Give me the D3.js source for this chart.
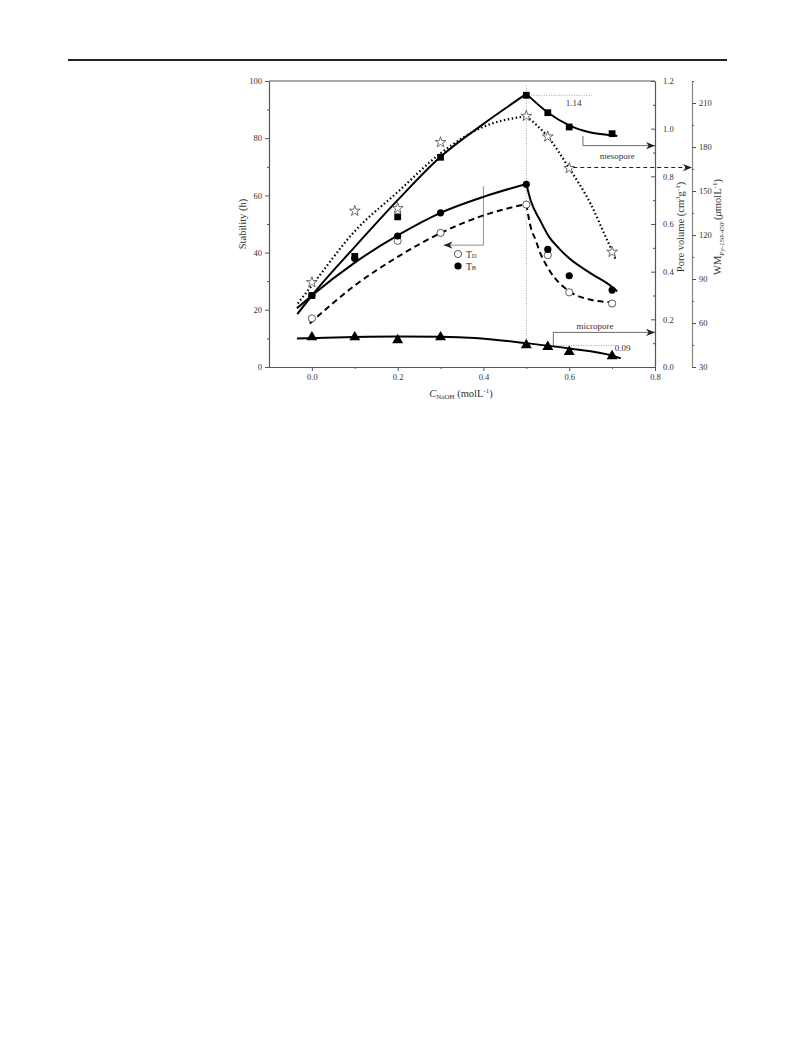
<!DOCTYPE html>
<html><head><meta charset="utf-8">
<script src="https://cdn.jsdelivr.net/npm/d3@7"></script>
<style>body{margin:0;background:#fff}svg{display:block}text{font-family:"Liberation Serif","Times New Roman",serif;fill:#333}</style>
</head><body>
<script>
// ---- data ----
const xCats = [0.0, 0.1, 0.2, 0.3, 0.5, 0.55, 0.6, 0.7];
const mesoporeVol = [0.30, 0.464, 0.63, 0.88, 1.14, 1.067, 1.007, 0.979];          // squares, cm3/g
const microporeVol = [0.125, 0.125, 0.113, 0.125, 0.092, 0.085, 0.064, 0.046];     // triangles, cm3/g
const wmPy = [87.7, 136.4, 138.2, 183.2, 201.1, 187.0, 165.5, 108.4];              // stars, umol/L
const tB = [25, 37.9, 45.8, 53.9, 63.9, 41.1, 31.9, 26.9];                         // filled circles, h
const tDx = [0.0, 0.2, 0.3, 0.5, 0.55, 0.6, 0.7];
const tD = [17.0, 44.1, 46.9, 56.8, 39.1, 26.1, 22.2];                              // open circles, h

// fitted curves
const mesoFitUpX = [-0.034, 0, 0.1, 0.2, 0.3, 0.4, 0.5];
const mesoFitUp = [0.222, 0.30, 0.504, 0.70, 0.882, 1.02, 1.146];
const mesoFitDnX = [0.5, 0.55, 0.6, 0.65, 0.7, 0.712];
const mesoFitDn = [1.146, 1.068, 1.014, 0.984, 0.972, 0.969];
const wmFitUpX = [-0.033, 0, 0.1, 0.2, 0.3, 0.4, 0.5];
const wmFitUp = [73.3, 85.6, 122.6, 149.3, 175.7, 193.8, 201];
const wmFitDnX = [0.5, 0.55, 0.6, 0.65, 0.685, 0.7, 0.708];
const wmFitDn = [201, 187, 165.5, 141.2, 118.7, 109, 103.3];
const tBFitUpX = [-0.035, 0, 0.1, 0.2, 0.3, 0.4, 0.5];
const tBFitUp = [20.5, 25, 36.5, 46, 53.9, 59.5, 64];
const tBFitDnX = [0.5, 0.51, 0.532, 0.553, 0.576, 0.6, 0.653, 0.7, 0.712];
const tBFitDn = [64, 58.3, 51.3, 45.5, 41.5, 38, 32.5, 28, 26.5];
const tDFitUpX = [-0.005, 0.1, 0.2, 0.3, 0.4, 0.5];
const tDFitUp = [15.2, 28.5, 38.5, 46.8, 53, 57];
const tDFitDnX = [0.5, 0.51, 0.522, 0.53, 0.553, 0.6, 0.65, 0.7, 0.71];
const tDFitDn = [57, 49, 44.3, 40.8, 34, 26.5, 23.5, 22.6, 22.5];
const microFitX = [-0.035, 0.1, 0.2, 0.3, 0.38, 0.5, 0.6, 0.7, 0.72];
const microFit = [0.12, 0.126, 0.128, 0.127, 0.122, 0.10, 0.078, 0.048, 0.036];

const xTicks = [0.0, 0.2, 0.4, 0.6, 0.8];
const yLeftTicks = [0, 20, 40, 60, 80, 100];
const yPvTicks = [0.0, 0.2, 0.4, 0.6, 0.8, 1.0, 1.2];
const yWmTicks = [30, 60, 90, 120, 150, 180, 210];

// ---- layout ----
const W = 793, H = 1053;
const L = 269, R = 655, T = 81, B = 367, WMX = 692;
const svg = d3.select("body").append("svg").attr("width", W).attr("height", H);
svg.append("rect").attr("width", W).attr("height", H).attr("fill", "#fff");

const x = d3.scaleLinear().domain([-0.1, 0.8]).range([L, R]);
const yS = d3.scaleLinear().domain([0, 100]).range([B, T]);
const yP = d3.scaleLinear().domain([0, 1.2]).range([B, T]);
const yW = d3.scaleLinear().domain([30, 225]).range([B, T]);

// top rule
svg.append("line").attr("x1", 68).attr("x2", 727).attr("y1", 60).attr("y2", 60)
  .attr("stroke", "#222").attr("stroke-width", 2);

const defs = svg.append("defs");
defs.append("marker").attr("id", "arr").attr("viewBox", "0 0 10 10").attr("refX", 10).attr("refY", 5)
  .attr("markerWidth", 9).attr("markerHeight", 9).attr("markerUnits", "userSpaceOnUse").attr("orient", "auto")
  .append("path").attr("d", "M0,1 L10,5 L0,9 L3,5 Z").attr("fill", "#222");

const fmt1 = d3.format(".1f");
const axCol = "#555";
function styleAxis(g) {
  g.selectAll("path.domain").attr("stroke", axCol).attr("stroke-width", 1.2);
  g.selectAll(".tick line").attr("stroke", axCol);
  g.selectAll(".tick text").style("font-family", '"Liberation Serif",serif').style("font-size", "8.5px").attr("fill", "#444");
}

// x axis
const gx = svg.append("g").attr("transform", `translate(0,${B})`)
  .call(d3.axisBottom(x).tickValues(xTicks).tickFormat(fmt1).tickSize(4).tickSizeOuter(0).tickPadding(3));
styleAxis(gx);
svg.append("g").attr("transform", `translate(0,${B})`)
  .call(d3.axisBottom(x).tickValues([0.1, 0.3, 0.5, 0.7]).tickFormat("").tickSize(2).tickSizeOuter(0))
  .call(g => { g.select("path.domain").remove(); g.selectAll(".tick line").attr("stroke", axCol); });
// top border
svg.append("line").attr("x1", L).attr("x2", R).attr("y1", T).attr("y2", T).attr("stroke", axCol).attr("stroke-width", 1.2);

// left axis
const gl = svg.append("g").attr("transform", `translate(${L},0)`)
  .call(d3.axisLeft(yS).tickValues(yLeftTicks).tickSize(4).tickSizeOuter(0).tickPadding(3));
styleAxis(gl);
svg.append("g").attr("transform", `translate(${L},0)`)
  .call(d3.axisLeft(yS).tickValues([10, 30, 50, 70, 90]).tickFormat("").tickSize(2).tickSizeOuter(0))
  .call(g => { g.select("path.domain").remove(); g.selectAll(".tick line").attr("stroke", axCol); });

// pore volume axis (inner right)
const gp = svg.append("g").attr("transform", `translate(${R},0)`)
  .call(d3.axisRight(yP).tickValues(yPvTicks).tickFormat(fmt1).tickSize(-4).tickSizeOuter(0).tickPadding(8));
styleAxis(gp);
svg.append("g").attr("transform", `translate(${R},0)`)
  .call(d3.axisRight(yP).tickValues([0.1, 0.3, 0.5, 0.7, 0.9, 1.1]).tickFormat("").tickSize(-2).tickSizeOuter(0))
  .call(g => { g.select("path.domain").remove(); g.selectAll(".tick line").attr("stroke", axCol); });

// WM axis (outer right)
const gw = svg.append("g").attr("transform", `translate(${WMX},0)`)
  .call(d3.axisRight(yW).tickValues(yWmTicks).tickSize(4).tickSizeOuter(0).tickPadding(3));
styleAxis(gw);
gw.select("path.domain").attr("stroke", "#888");
svg.append("g").attr("transform", `translate(${WMX},0)`)
  .call(d3.axisRight(yW).tickValues([45, 75, 105, 135, 165, 195, 225]).tickFormat("").tickSize(2).tickSizeOuter(0))
  .call(g => { g.select("path.domain").remove(); g.selectAll(".tick line").attr("stroke", axCol); });

// axis titles
svg.append("text").attr("transform", `translate(246,224) rotate(-90)`).attr("text-anchor", "middle")
  .style("font-size", "10.5px").text("Stability (h)");
const pvT = svg.append("text").attr("transform", `translate(684,227) rotate(-90)`).attr("text-anchor", "middle").style("font-size", "10.5px");
pvT.append("tspan").text("Pore volume (cm");
pvT.append("tspan").attr("dy", -4).style("font-size", "7px").text("3");
pvT.append("tspan").attr("dy", 4).text("g");
pvT.append("tspan").attr("dy", -4).style("font-size", "7px").text("-1");
pvT.append("tspan").attr("dy", 4).text(")");
const wmT = svg.append("text").attr("transform", `translate(721,227) rotate(-90)`).attr("text-anchor", "middle").style("font-size", "10.5px");
wmT.append("tspan").text("WM");
wmT.append("tspan").attr("dy", 3).style("font-size", "7px").style("font-style", "italic").text("Py-150-450");
wmT.append("tspan").attr("dy", -3).text(" (");
wmT.append("tspan").style("font-style", "italic").text("μ");
wmT.append("tspan").text("molL");
wmT.append("tspan").attr("dy", -4).style("font-size", "7px").text("-1");
wmT.append("tspan").attr("dy", 4).text(")");
const xT = svg.append("text").attr("x", 461).attr("y", 397).attr("text-anchor", "middle").style("font-size", "10.5px");
xT.append("tspan").style("font-style", "italic").text("C");
xT.append("tspan").attr("dy", 2).style("font-size", "7px").text("NaOH");
xT.append("tspan").attr("dy", -2).text(" (molL");
xT.append("tspan").attr("dy", -4).style("font-size", "7px").text("-1");
xT.append("tspan").attr("dy", 4).text(")");

// ---- annotation guides ----
const dotCol = "#888";
svg.append("line").attr("x1", x(0.5)).attr("x2", x(0.5)).attr("y1", yS(98.5)).attr("y2", yP(0.092))
  .attr("stroke", dotCol).attr("stroke-width", 0.8).attr("stroke-dasharray", "1,1.5");
svg.append("line").attr("x1", x(0.5)).attr("x2", x(0.653)).attr("y1", yP(1.14)).attr("y2", yP(1.14))
  .attr("stroke", dotCol).attr("stroke-width", 0.8).attr("stroke-dasharray", "1,1.5");
svg.append("text").attr("x", x(0.61)).attr("y", yP(1.14) + 11).attr("text-anchor", "middle").style("font-size", "9px").text("1.14");
svg.append("line").attr("x1", x(0.563)).attr("x2", x(0.705)).attr("y1", yP(0.09)).attr("y2", yP(0.09))
  .attr("stroke", dotCol).attr("stroke-width", 0.8).attr("stroke-dasharray", "1,1.5");
svg.append("text").attr("x", x(0.706)).attr("y", yP(0.09) + 5).style("font-size", "9px").text("0.09");

// mesopore arrow
svg.append("path").attr("d", `M${x(0.632)},${yS(80.7)} V${yS(77.4)} H${R}`)
  .attr("fill", "none").attr("stroke", "#444").attr("stroke-width", 0.8).attr("marker-end", "url(#arr)");
svg.append("text").attr("x", x(0.712)).attr("y", yS(77.4) + 13).attr("text-anchor", "middle").style("font-size", "9px").text("mesopore");
// micropore arrow
svg.append("path").attr("d", `M${x(0.563)},${yS(7.4)} V${yS(12.1)} H${R}`)
  .attr("fill", "none").attr("stroke", "#444").attr("stroke-width", 0.8).attr("marker-end", "url(#arr)");
svg.append("text").attr("x", x(0.66)).attr("y", yS(12.1) - 3).attr("text-anchor", "middle").style("font-size", "9px").text("micropore");
// WM dashed arrow
svg.append("line").attr("x1", x(0.6) + 4).attr("x2", WMX).attr("y1", yW(166)).attr("y2", yW(166))
  .attr("stroke", "#222").attr("stroke-width", 1.1).attr("stroke-dasharray", "4,3").attr("marker-end", "url(#arr)");
// stability (left) arrow
svg.append("path").attr("d", `M${x(0.4)},${yS(63.2)} V${yS(42.6)} H${x(0.307)}`)
  .attr("fill", "none").attr("stroke", "#666").attr("stroke-width", 0.7).attr("marker-end", "url(#arr)");

// ---- fit curves ----
function curve(xs, ys, ysc, dash) {
  const pts = xs.map((v, i) => [x(v), ysc(ys[i])]);
  const p = svg.append("path").attr("d", d3.line().curve(d3.curveMonotoneX)(pts))
    .attr("fill", "none").attr("stroke", "#000").attr("stroke-width", 2);
  if (dash) p.attr("stroke-dasharray", dash);
  if (dash === "1.5,2.5") p.attr("stroke-width", 2.2);
}
curve(mesoFitUpX, mesoFitUp, yP);
curve(mesoFitDnX, mesoFitDn, yP);
curve(wmFitUpX, wmFitUp, yW, "1.5,2.5");
curve(wmFitDnX, wmFitDn, yW, "1.5,2.5");
curve(tBFitUpX, tBFitUp, yS);
curve(tBFitDnX, tBFitDn, yS);
curve(tDFitUpX, tDFitUp, yS, "6,4");
curve(tDFitDnX, tDFitDn, yS, "6,4");
curve(microFitX, microFit, yP);

// ---- markers ----
const sq = d3.symbol().type(d3.symbolSquare).size(46);
const tri = d3.symbol().type(d3.symbolTriangle).size(52);
const star = d3.symbol().type(d3.symbolStar).size(36);
svg.append("g").selectAll("path").data(xCats).join("path")
  .attr("transform", (d, i) => `translate(${x(d)},${yP(mesoporeVol[i])})`).attr("d", sq).attr("fill", "#000");
svg.append("g").selectAll("path").data(xCats).join("path")
  .attr("transform", (d, i) => `translate(${x(d)},${yP(microporeVol[i])})`).attr("d", tri).attr("fill", "#000");
svg.append("g").selectAll("path").data(xCats).join("path")
  .attr("transform", (d, i) => `translate(${x(d)},${yW(wmPy[i])})`).attr("d", star)
  .attr("fill", "#fff").attr("stroke", "#333").attr("stroke-width", 0.7);
svg.append("g").selectAll("circle").data(tDx).join("circle")
  .attr("cx", d => x(d)).attr("cy", (d, i) => yS(tD[i])).attr("r", 3.6)
  .attr("fill", "#fff").attr("stroke", "#333").attr("stroke-width", 0.8);
svg.append("g").selectAll("circle").data(xCats).join("circle")
  .attr("cx", d => x(d)).attr("cy", (d, i) => yS(tB[i])).attr("r", 3.6).attr("fill", "#000");

// legend
const lg = svg.append("g");
lg.append("circle").attr("cx", 458).attr("cy", 254).attr("r", 3.6).attr("fill", "#fff").attr("stroke", "#333").attr("stroke-width", 0.8);
lg.append("circle").attr("cx", 458).attr("cy", 266).attr("r", 3.6).attr("fill", "#000");
const l1 = lg.append("text").attr("x", 466).attr("y", 257.5).style("font-size", "9.5px");
l1.append("tspan").text("T"); l1.append("tspan").style("font-size", "6.5px").text("D");
const l2 = lg.append("text").attr("x", 466).attr("y", 269.5).style("font-size", "9.5px");
l2.append("tspan").text("T"); l2.append("tspan").style("font-size", "6.5px").text("B");
</script>
</body></html>
